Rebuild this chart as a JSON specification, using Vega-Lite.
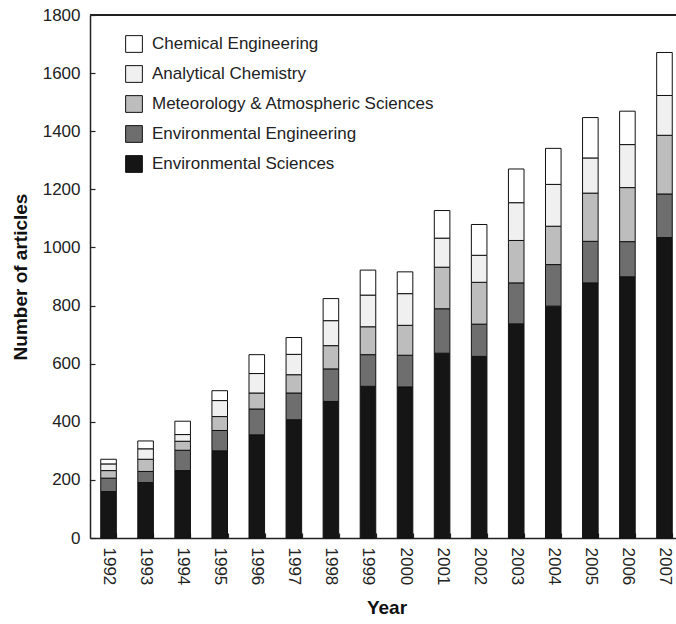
{
  "$schema": "https://vega.github.io/schema/vega-lite/v6.json",
  "width": 586,
  "height": 523,
  "autosize": "none",
  "padding": {"left": 90, "top": 15, "right": 0, "bottom": 86},
  "background": "white",
  "config": {
    "view": {"stroke": null},
    "font": "Liberation Sans",
    "axis": {"labelFont": "Liberation Sans", "titleFont": "Liberation Sans", "labelColor": "#222", "titleColor": "#111", "domainColor": "#222", "tickColor": "#222", "domainWidth": 1.5, "tickWidth": 1.2}
  },
  "data": {"values": [
    {"year":"1992","cat":"Environmental Sciences","k":1,"n":160},
    {"year":"1992","cat":"Environmental Engineering","k":2,"n":46},
    {"year":"1992","cat":"Meteorology & Atmospheric Sciences","k":3,"n":26},
    {"year":"1992","cat":"Analytical Chemistry","k":4,"n":23},
    {"year":"1992","cat":"Chemical Engineering","k":5,"n":16},
    {"year":"1993","cat":"Environmental Sciences","k":1,"n":191},
    {"year":"1993","cat":"Environmental Engineering","k":2,"n":38},
    {"year":"1993","cat":"Meteorology & Atmospheric Sciences","k":3,"n":42},
    {"year":"1993","cat":"Analytical Chemistry","k":4,"n":36},
    {"year":"1993","cat":"Chemical Engineering","k":5,"n":27},
    {"year":"1994","cat":"Environmental Sciences","k":1,"n":232},
    {"year":"1994","cat":"Environmental Engineering","k":2,"n":70},
    {"year":"1994","cat":"Meteorology & Atmospheric Sciences","k":3,"n":31},
    {"year":"1994","cat":"Analytical Chemistry","k":4,"n":23},
    {"year":"1994","cat":"Chemical Engineering","k":5,"n":46},
    {"year":"1995","cat":"Environmental Sciences","k":1,"n":300},
    {"year":"1995","cat":"Environmental Engineering","k":2,"n":70},
    {"year":"1995","cat":"Meteorology & Atmospheric Sciences","k":3,"n":48},
    {"year":"1995","cat":"Analytical Chemistry","k":4,"n":55},
    {"year":"1995","cat":"Chemical Engineering","k":5,"n":34},
    {"year":"1996","cat":"Environmental Sciences","k":1,"n":355},
    {"year":"1996","cat":"Environmental Engineering","k":2,"n":89},
    {"year":"1996","cat":"Meteorology & Atmospheric Sciences","k":3,"n":55},
    {"year":"1996","cat":"Analytical Chemistry","k":4,"n":67},
    {"year":"1996","cat":"Chemical Engineering","k":5,"n":65},
    {"year":"1997","cat":"Environmental Sciences","k":1,"n":407},
    {"year":"1997","cat":"Environmental Engineering","k":2,"n":92},
    {"year":"1997","cat":"Meteorology & Atmospheric Sciences","k":3,"n":63},
    {"year":"1997","cat":"Analytical Chemistry","k":4,"n":70},
    {"year":"1997","cat":"Chemical Engineering","k":5,"n":58},
    {"year":"1998","cat":"Environmental Sciences","k":1,"n":470},
    {"year":"1998","cat":"Environmental Engineering","k":2,"n":112},
    {"year":"1998","cat":"Meteorology & Atmospheric Sciences","k":3,"n":80},
    {"year":"1998","cat":"Analytical Chemistry","k":4,"n":86},
    {"year":"1998","cat":"Chemical Engineering","k":5,"n":76},
    {"year":"1999","cat":"Environmental Sciences","k":1,"n":522},
    {"year":"1999","cat":"Environmental Engineering","k":2,"n":109},
    {"year":"1999","cat":"Meteorology & Atmospheric Sciences","k":3,"n":96},
    {"year":"1999","cat":"Analytical Chemistry","k":4,"n":109},
    {"year":"1999","cat":"Chemical Engineering","k":5,"n":86},
    {"year":"2000","cat":"Environmental Sciences","k":1,"n":520},
    {"year":"2000","cat":"Environmental Engineering","k":2,"n":109},
    {"year":"2000","cat":"Meteorology & Atmospheric Sciences","k":3,"n":103},
    {"year":"2000","cat":"Analytical Chemistry","k":4,"n":109},
    {"year":"2000","cat":"Chemical Engineering","k":5,"n":75},
    {"year":"2001","cat":"Environmental Sciences","k":1,"n":636},
    {"year":"2001","cat":"Environmental Engineering","k":2,"n":153},
    {"year":"2001","cat":"Meteorology & Atmospheric Sciences","k":3,"n":143},
    {"year":"2001","cat":"Analytical Chemistry","k":4,"n":100},
    {"year":"2001","cat":"Chemical Engineering","k":5,"n":95},
    {"year":"2002","cat":"Environmental Sciences","k":1,"n":625},
    {"year":"2002","cat":"Environmental Engineering","k":2,"n":111},
    {"year":"2002","cat":"Meteorology & Atmospheric Sciences","k":3,"n":144},
    {"year":"2002","cat":"Analytical Chemistry","k":4,"n":93},
    {"year":"2002","cat":"Chemical Engineering","k":5,"n":106},
    {"year":"2003","cat":"Environmental Sciences","k":1,"n":737},
    {"year":"2003","cat":"Environmental Engineering","k":2,"n":141},
    {"year":"2003","cat":"Meteorology & Atmospheric Sciences","k":3,"n":146},
    {"year":"2003","cat":"Analytical Chemistry","k":4,"n":130},
    {"year":"2003","cat":"Chemical Engineering","k":5,"n":116},
    {"year":"2004","cat":"Environmental Sciences","k":1,"n":798},
    {"year":"2004","cat":"Environmental Engineering","k":2,"n":143},
    {"year":"2004","cat":"Meteorology & Atmospheric Sciences","k":3,"n":132},
    {"year":"2004","cat":"Analytical Chemistry","k":4,"n":144},
    {"year":"2004","cat":"Chemical Engineering","k":5,"n":124},
    {"year":"2005","cat":"Environmental Sciences","k":1,"n":878},
    {"year":"2005","cat":"Environmental Engineering","k":2,"n":143},
    {"year":"2005","cat":"Meteorology & Atmospheric Sciences","k":3,"n":166},
    {"year":"2005","cat":"Analytical Chemistry","k":4,"n":121},
    {"year":"2005","cat":"Chemical Engineering","k":5,"n":139},
    {"year":"2006","cat":"Environmental Sciences","k":1,"n":899},
    {"year":"2006","cat":"Environmental Engineering","k":2,"n":121},
    {"year":"2006","cat":"Meteorology & Atmospheric Sciences","k":3,"n":186},
    {"year":"2006","cat":"Analytical Chemistry","k":4,"n":148},
    {"year":"2006","cat":"Chemical Engineering","k":5,"n":115},
    {"year":"2007","cat":"Environmental Sciences","k":1,"n":1034},
    {"year":"2007","cat":"Environmental Engineering","k":2,"n":150},
    {"year":"2007","cat":"Meteorology & Atmospheric Sciences","k":3,"n":202},
    {"year":"2007","cat":"Analytical Chemistry","k":4,"n":137},
    {"year":"2007","cat":"Chemical Engineering","k":5,"n":148}
  ]},
  "layer": [
    {
      "mark": {"type": "bar", "stroke": "#111", "strokeWidth": 1},
      "encoding": {
        "x": {
          "field": "year", "type": "ordinal", "title": "Year",
          "scale": {"range": [0, 593], "paddingInner": 0.58, "paddingOuter": 0.29},
          "axis": {"labelAngle": 90, "labelFontSize": 17, "labelPadding": 14, "tickSize": -5, "tickBand": "extent", "titleFontSize": 19, "titleFontWeight": "bold", "titlePadding": 14}
        },
        "y": {
          "field": "n", "type": "quantitative", "stack": "zero", "title": "Number of articles",
          "scale": {"domain": [0, 1800], "nice": false},
          "axis": {"values": [0,200,400,600,800,1000,1200,1400,1600,1800], "format": "d", "grid": false, "labelFontSize": 17, "labelPadding": 15, "tickSize": -5, "titleFontSize": 19, "titleFontWeight": "bold", "titlePadding": 12}
        },
        "order": {"field": "k", "type": "quantitative"},
        "color": {
          "field": "cat", "type": "nominal",
          "scale": {
            "domain": ["Chemical Engineering", "Analytical Chemistry", "Meteorology & Atmospheric Sciences", "Environmental Engineering", "Environmental Sciences"],
            "range": ["#ffffff", "#f0f0f0", "#bdbdbd", "#6e6e6e", "#151515"]
          },
          "legend": {
            "title": null, "orient": "none", "legendX": 35, "legendY": 20, "padding": 0,
            "symbolType": "square", "symbolSize": 280, "symbolStrokeColor": "#111", "symbolStrokeWidth": 1, "symbolOpacity": 1,
            "labelFontSize": 17, "labelFont": "Liberation Sans", "labelColor": "#222", "labelOffset": 9, "rowPadding": 8, "labelLimit": 400
          }
        }
      }
    },
    {
      "mark": {"type": "rule", "stroke": "#222", "strokeWidth": 1.5},
      "encoding": {"y": {"datum": 1800}}
    }
  ]
}
